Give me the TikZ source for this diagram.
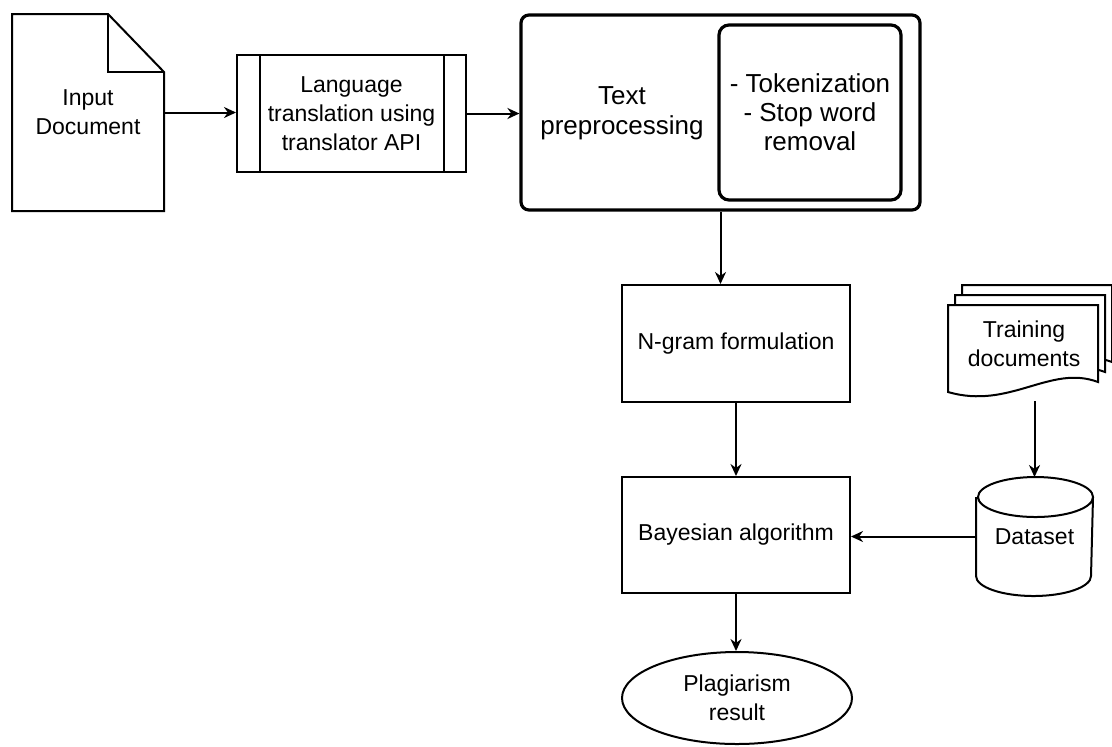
\documentclass[tikz,border=0pt]{standalone}
\usepackage{fontspec}
\setmainfont{Liberation Sans}
\usetikzlibrary{arrows.meta,shapes.geometric}

\begin{document}
\begin{tikzpicture}[x=0.5pt,y=-0.5pt,line width=1pt,
    every node/.style={font=\fontsize{11.5}{14.5}\selectfont, align=center, inner sep=0pt},
    box/.style={draw, minimum width=114pt, minimum height=58.5pt},
    flow/.style={-{Stealth[length=6pt,width=5.5pt]}}]
  \useasboundingbox (0,0) rectangle (1112,746);

  % input document
  \node[minimum width=75pt, minimum height=97.5pt] (input) at (88,112.5) {Input\\Document};
  \draw (input.north west) -- ([xshift=-28pt]input.north east) -- ([yshift=-29pt]input.north east)
    -- (input.south east) -- (input.south west) -- cycle;
  \draw ([xshift=-28pt]input.north east) |- ([yshift=-29pt]input.north east); % fold

  % translation
  \node[box, minimum width=114.5pt] (translate) at (351.5,113.5) {Language\\translation using\\translator API};
  \draw ([xshift=12pt]translate.north west) -- ([xshift=12pt]translate.south west);
  \draw ([xshift=-11.5pt]translate.north east) -- ([xshift=-11.5pt]translate.south east);

  % text preprocessing
  \node[draw, line width=1.6pt, rounded corners=4pt, minimum width=199.5pt, minimum height=97.5pt] (prep) at (720.5,112.5) {};
  \node[font=\fontsize{13}{15}\selectfont] (preptext) at (622,113) {Text\\preprocessing};
  \node[draw, line width=1.6pt, rounded corners=5pt, minimum width=91pt, minimum height=87.5pt,
    font=\fontsize{13}{14.5}\selectfont] (steps) at (810,112.5) {- Tokenization\\- Stop word\\removal};

  \node[box] (ngram) at (736,343.5) {N-gram formulation};
  \node[box, minimum height=58pt] (bayes) at (736,535) {Bayesian algorithm};
  \node[draw, ellipse, minimum width=115pt, minimum height=46pt] (result) at (737,698) {Plagiarism\\result};

  % training documents (stacked pages)
  \foreach \s in {2,1,0}
    \draw[fill=white] (948+7*\s,305-10*\s) -- (1098+7*\s,305-10*\s) -- (1098+7*\s,382-10*\s)
      .. controls (1050+7*\s,364-10*\s) and (1010+7*\s,410-10*\s) .. (948+7*\s,392-10*\s) -- cycle;
  \node[minimum height=56pt] (train) at (1024,344) {Training\\documents};

  % dataset
  \node[minimum width=57.5pt, minimum height=58.5pt] (data) at (1034.5,536.5) {Dataset};
  \draw ([yshift=-10pt]data.north west) -- ([yshift=10pt]data.south west)
    arc[start angle=180, end angle=360, x radius=28.75pt, y radius=10pt]
    -- ([yshift=-10pt]data.north east)
    arc[start angle=0, end angle=180, x radius=28.75pt, y radius=10pt]
    arc[start angle=180, end angle=360, x radius=28.75pt, y radius=10pt];

  \draw[flow] (input.east) -- (input.east -| translate.west);
  \draw[flow] (translate.east) -- (translate.east -| prep.west);
  \draw[flow] (prep.south) -- (prep.south |- ngram.north);
  \draw[flow] (ngram) -- (bayes);
  \draw[flow] (bayes.south) -- (bayes.south |- result.north);
  \draw[flow] (train.south -| data.north) -- (data.north);
  \draw[flow] (data.west) -- (data.west -| bayes.east);
\end{tikzpicture}
\end{document}
